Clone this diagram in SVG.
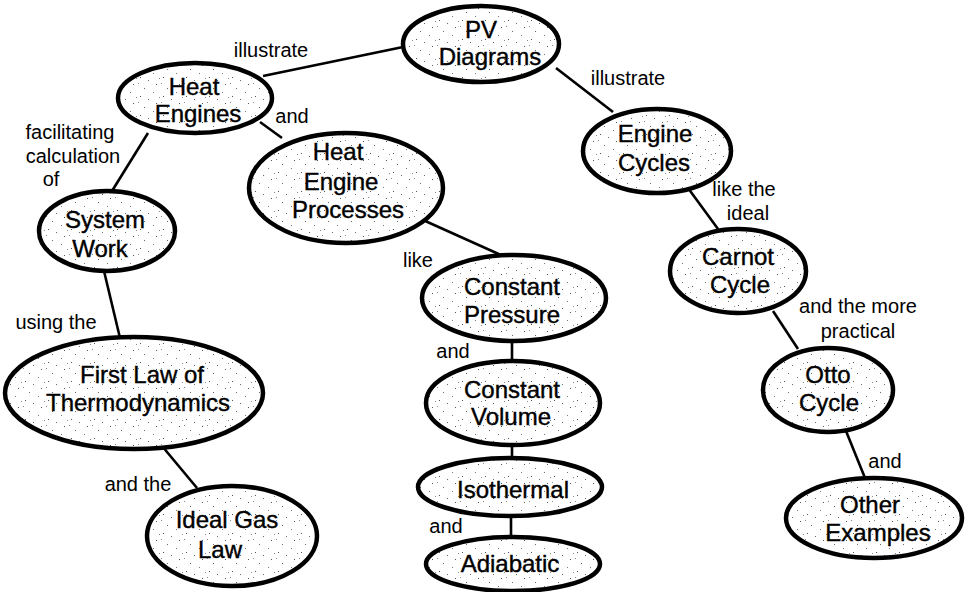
<svg xmlns="http://www.w3.org/2000/svg" width="966" height="592" viewBox="0 0 966 592">
<defs>
<pattern id="stip" width="23" height="19" patternUnits="userSpaceOnUse">
<rect width="23" height="19" fill="#fff"/>
<rect x="2" y="1" width="1" height="1" fill="#555"/>
<rect x="10" y="4" width="1" height="1" fill="#666"/>
<rect x="18" y="8" width="1" height="1" fill="#555"/>
<rect x="6" y="12" width="1" height="1" fill="#666"/>
<rect x="15" y="16" width="1" height="1" fill="#777"/>
<rect x="0" y="7" width="1" height="1" fill="#888"/>
<rect x="21" y="2" width="1" height="1" fill="#888"/>
</pattern>
<style>
.n ellipse{fill:url(#stip);stroke:#000;stroke-width:4.5}
.n text{font-family:"Liberation Sans",Arial,sans-serif;font-size:24px;text-anchor:middle;fill:#000;stroke:#000;stroke-width:0.4}
.c line{stroke:#000;stroke-width:2.6}
.l text{font-family:"Liberation Sans",Arial,sans-serif;font-size:20px;text-anchor:middle;fill:#000}
</style>
</defs>
<rect width="966" height="592" fill="#fff"/>
<g class="c" id="connectors">
<line x1="263" y1="76" x2="403" y2="47"/>
<line x1="556" y1="68" x2="613" y2="112"/>
<line x1="260" y1="122" x2="282" y2="138"/>
<line x1="148" y1="133" x2="112" y2="191"/>
<line x1="423" y1="220" x2="503" y2="256"/>
<line x1="104" y1="271" x2="120" y2="338"/>
<line x1="162" y1="446" x2="197" y2="488"/>
<line x1="512" y1="341" x2="512" y2="362"/>
<line x1="512" y1="445" x2="512" y2="458"/>
<line x1="511" y1="516" x2="511" y2="537"/>
<line x1="688" y1="188" x2="718" y2="229"/>
<line x1="773" y1="311" x2="798" y2="349"/>
<line x1="846" y1="431" x2="865" y2="478"/>
</g>
<g class="l" id="labels">
<text x="271" y="57">illustrate</text>
<text x="292" y="123">and</text>
<text x="70" y="139">facilitating</text>
<text x="73" y="163">calculation</text>
<text x="51" y="186">of</text>
<text x="628" y="85">illustrate</text>
<text x="744" y="196">like the</text>
<text x="748" y="220">ideal</text>
<text x="418" y="267">like</text>
<text x="56" y="329">using the</text>
<text x="453" y="358">and</text>
<text x="446" y="533">and</text>
<text x="138" y="491">and the</text>
<text x="858" y="313">and the more</text>
<text x="858" y="338">practical</text>
<text x="885" y="468">and</text>
</g>
<g class="n" id="pv-diagrams"><ellipse cx="481" cy="44" rx="78" ry="38"/><text x="481" y="38">PV</text><text x="490" y="65">Diagrams</text></g>
<g class="n" id="heat-engines"><ellipse cx="195" cy="98" rx="77" ry="35"/><text x="194" y="95">Heat</text><text x="198" y="122">Engines</text></g>
<g class="n" id="heat-engine-processes"><ellipse cx="346" cy="188" rx="97" ry="55"/><text x="338" y="160">Heat</text><text x="341" y="190">Engine</text><text x="348" y="218">Processes</text></g>
<g class="n" id="system-work"><ellipse cx="107" cy="231" rx="68" ry="40"/><text x="105" y="228">System</text><text x="100" y="257">Work</text></g>
<g class="n" id="first-law"><ellipse cx="134" cy="393" rx="129" ry="56"/><text x="142" y="383">First Law of</text><text x="138" y="411">Thermodynamics</text></g>
<g class="n" id="ideal-gas-law"><ellipse cx="232" cy="536" rx="85" ry="50"/><text x="227" y="528">Ideal Gas</text><text x="220" y="558">Law</text></g>
<g class="n" id="engine-cycles"><ellipse cx="657" cy="151" rx="74" ry="42"/><text x="655" y="142">Engine</text><text x="654" y="171">Cycles</text></g>
<g class="n" id="carnot-cycle"><ellipse cx="738" cy="271" rx="68" ry="42"/><text x="738" y="265">Carnot</text><text x="740" y="293">Cycle</text></g>
<g class="n" id="otto-cycle"><ellipse cx="828" cy="390" rx="65" ry="42"/><text x="828" y="383">Otto</text><text x="829" y="411">Cycle</text></g>
<g class="n" id="other-examples"><ellipse cx="874" cy="518" rx="88" ry="40"/><text x="870" y="513">Other</text><text x="878" y="541">Examples</text></g>
<g class="n" id="constant-pressure"><ellipse cx="514" cy="298" rx="92" ry="43"/><text x="512" y="295">Constant</text><text x="512" y="323">Pressure</text></g>
<g class="n" id="constant-volume"><ellipse cx="513" cy="403" rx="87" ry="42"/><text x="512" y="398">Constant</text><text x="511" y="425">Volume</text></g>
<g class="n" id="isothermal"><ellipse cx="510" cy="487" rx="92" ry="29"/><text x="513" y="498">Isothermal</text></g>
<g class="n" id="adiabatic"><ellipse cx="513" cy="564" rx="87" ry="27"/><text x="510" y="572">Adiabatic</text></g>
</svg>
